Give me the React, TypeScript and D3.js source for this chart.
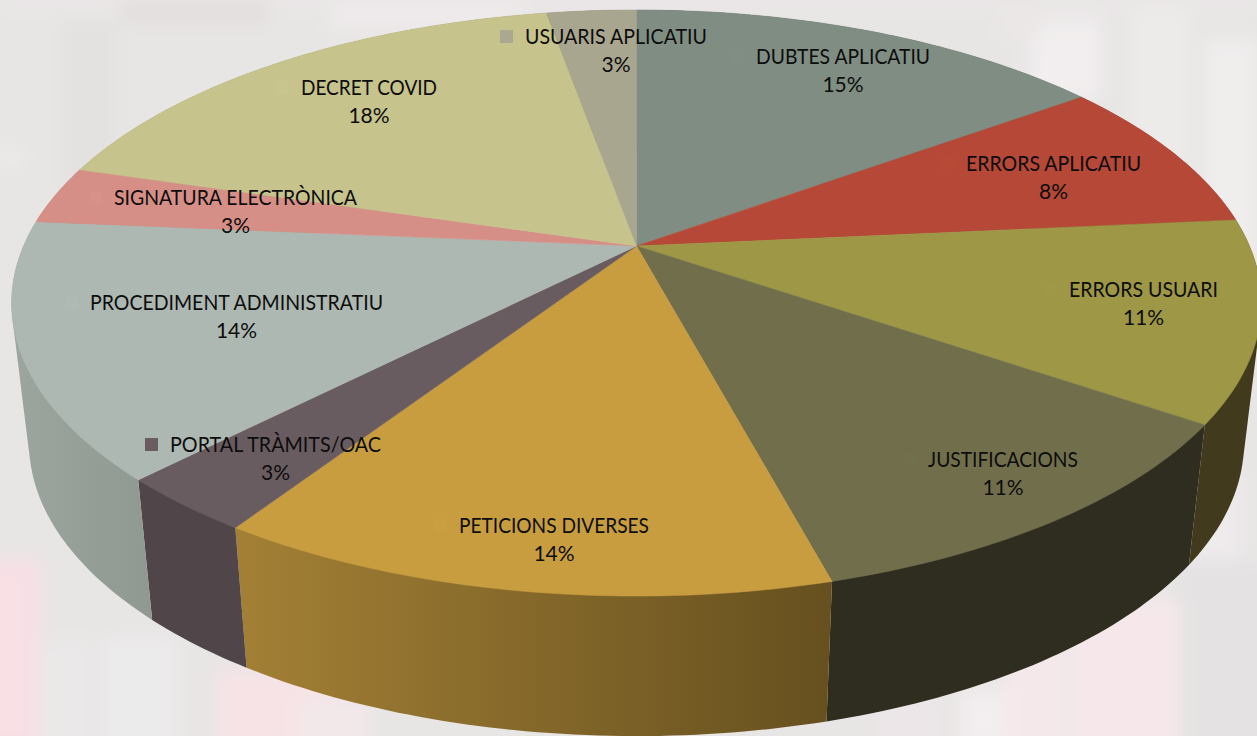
import React from "react";
import * as d3 from "d3";

const categories = ["DUBTES APLICATIU","ERRORS APLICATIU","ERRORS USUARI","JUSTIFICACIONS","PETICIONS DIVERSES","PORTAL TRÀMITS/OAC","PROCEDIMENT ADMINISTRATIU","SIGNATURA ELECTRÒNICA","DECRET COVID","USUARIS APLICATIU"];
const values = [15, 8.5, 11.05, 11.28, 13.4, 3.11, 14.06, 3.2, 17.6, 2.8];
const percentLabels = ["15%","8%","11%","11%","14%","3%","14%","3%","18%","3%"];
const topColors = ["#7f8d82","#b54836","#9d9746","#716f4b","#c89d40","#695c60","#aeb8b2","#d68f87","#c6c38c","#a9a68f"];
const wallStart = ["#5f6a62","#88362a","#413a1c","#2f2c20","#a38035","#504649","#9ca69f","#a06b65","#959269","#7f7c6b"];
const wallEnd = ["#5f6a62","#88362a","#413a1c","#2f2c20","#66501f","#504649","#8f9992","#a06b65","#959269","#7f7c6b"];
// label layout: left edge of name, name width, name baseline
const labelX = [756,966,1069,928,459,170,90,114,301,525];
const labelW = [174,175,149,150,190,211,293,243,136,182];
const labelY = [64,171,297,467,533,452,310,205,95,44];
// background texture: x, y, w, h, colour
const bgBlocks: [number,number,number,number,string][] = [
  [-40,-40,1340,820,"#e8e5e5"],
  [0,0,1257,9,"#ece8e9"],[120,0,150,26,"#e3dfdf"],[330,0,190,30,"#eeeaeb"],
  [1030,20,70,80,"#f2eeef"],[1130,10,60,160,"#edeaea"],[1205,40,52,240,"#f0eded"],
  [1000,0,40,40,"#ebe7e7"],[0,150,18,14,"#f0eded"],[60,20,60,170,"#e4e1e1"],
  [-20,560,60,190,"#f8e0e5"],[40,640,50,110,"#eae8e8"],
  [105,640,70,110,"#ecebeb"],[218,670,120,80,"#f7e3e6"],[300,700,70,50,"#f2e8ea"],
  [1005,640,60,110,"#f5e8ea"],[1070,600,110,150,"#f6e8ea"],[1180,560,90,190,"#e4e2e2"],
  [1190,470,50,90,"#efebed"],[880,700,60,50,"#ece6e8"],[960,690,45,60,"#f3eeef"],
];

const W = 1257, H = 736;
// Perspective view of the pie's plane
const apexX = 636.5, apexY = 246, persp = 0.1945, planeA = 613, planeB = 282;
const depth = 140, bottomScale = 0.972;

const project = (a: number): [number, number] => {
  const u = Math.sin(a), v = -Math.cos(a), d = 1 - persp * v;
  return [apexX + (planeA * u) / d, apexY + (planeB * v) / d];
};
const lower = ([x, y]: [number, number]): [number, number] => [apexX + (x - apexX) * bottomScale, y + depth];

const arcs = d3.pie<number>().sort(null).value((d) => d)(values);
const line = d3.line();
const colorOf = d3.scaleOrdinal<number, string>().domain(d3.range(values.length)).range(topColors);

const sample = (a0: number, a1: number) => {
  const n = Math.max(8, Math.ceil((a1 - a0) * 60));
  return d3.range(n + 1).map((i) => project(a0 + ((a1 - a0) * i) / n));
};

export default function App() {
  const slices = arcs.map((s, i) => {
    const rim = sample(s.startAngle, s.endAngle);
    const top = line([[apexX, apexY], ...rim])! + "Z";
    const hull = d3.polygonHull([...rim, ...rim.map(lower)] as [number, number][])!;
    const wall = line(hull)! + "Z";
    const xs = hull.map((p) => p[0]);
    return { i, top, wall, x0: d3.min(xs)!, x1: d3.max(xs)! };
  });
  return (
    <svg width={W} height={H} viewBox={`0 0 ${W} ${H}`} style={{ position: "fixed", left: 0, top: 0, display: "block" }}>
      <defs>
        <filter id="soft" filterUnits="userSpaceOnUse" x={-60} y={-60} width={W + 120} height={H + 120}>
          <feGaussianBlur stdDeviation="9" />
        </filter>
        {slices.map((s) => (
          <linearGradient key={s.i} id={`wall${s.i}`} gradientUnits="userSpaceOnUse" x1={s.x0} x2={s.x1} y1={0} y2={0}>
            <stop offset="0" stopColor={wallStart[s.i]} />
            <stop offset="1" stopColor={wallEnd[s.i]} />
          </linearGradient>
        ))}
      </defs>
      <rect width={W} height={H} fill="#e8e5e5" />
      <g filter="url(#soft)">
        {bgBlocks.map((b, i) => (
          <rect key={i} x={b[0]} y={b[1]} width={b[2]} height={b[3]} fill={b[4]} />
        ))}
      </g>
      {slices.map((s) => (
        <path key={s.i} d={s.wall} fill={`url(#wall${s.i})`} />
      ))}
      {slices.map((s) => (
        <path key={s.i} d={s.top} fill={colorOf(s.i)} stroke={colorOf(s.i)} strokeWidth={0.5} />
      ))}
      <g fontFamily="Lato, 'Open Sans', sans-serif" fontSize={21} fill="#0d0d0d">
        {categories.map((c, i) => (
          <g key={c}>
            <rect x={labelX[i] - 25} y={labelY[i] - 14} width={13} height={13} fill={d3.color(colorOf(i))!.brighter(0.03).formatHex()} />
            <text x={labelX[i]} y={labelY[i]} textLength={labelW[i]} lengthAdjust="spacingAndGlyphs">{c}</text>
            <text x={labelX[i] + labelW[i] / 2} y={labelY[i] + 28} textAnchor="middle">{percentLabels[i]}</text>
          </g>
        ))}
      </g>
    </svg>
  );
}
